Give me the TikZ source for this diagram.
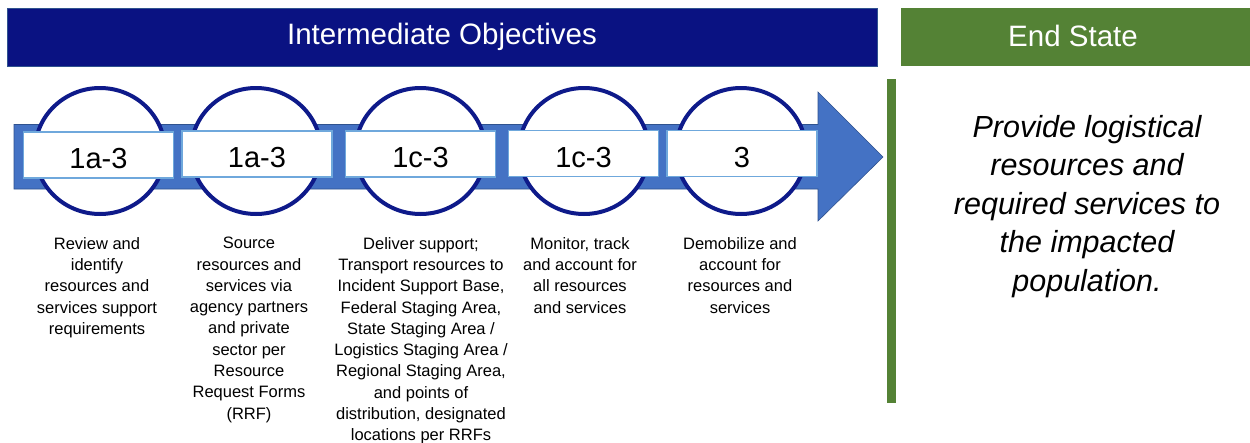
\documentclass[tikz,border=0pt]{standalone}
\usepackage{fontspec}
\usetikzlibrary{shapes.geometric}
\setmainfont{Liberation Sans}
\definecolor{navy}{RGB}{10,18,130}
\definecolor{navyline}{RGB}{47,82,143}
\definecolor{circ}{RGB}{14,26,138}
\definecolor{esgreen}{RGB}{84,130,53}
\definecolor{arrowblue}{RGB}{68,114,196}
\definecolor{arrowline}{RGB}{47,82,143}
\definecolor{rectline}{RGB}{111,168,220}
\begin{document}
\begin{tikzpicture}[x=1pt,y=-1pt,
  stepcircle/.style={ellipse,draw=circ,line width=4pt,fill=white,minimum width=130pt,minimum height=126pt,inner sep=0pt},
  steprect/.style={rectangle,draw=rectline,line width=1.5pt,fill=white,minimum width=150pt,minimum height=46pt,inner sep=0pt,text height=27pt,text depth=0pt,font=\fontsize{29}{32}\selectfont},
  desc/.style={align=center,anchor=north,inner sep=0pt,font=\fontsize{16.5}{21.3}\selectfont},
  headbox/.style={rectangle,inner sep=0pt,text=white,font=\fontsize{29.5}{32}\selectfont}]
\useasboundingbox (0,0) rectangle (1250,442);
\fill[white] (0,0) rectangle (1250,442);
% header bars
\node[headbox,fill=navy,draw=navyline,line width=1pt,minimum width=870pt,minimum height=58pt] (hdr) at (442,37) {Intermediate Objectives};
\node[headbox,fill=esgreen,minimum width=352pt,minimum height=58pt,anchor=west] (endhdr) at (901,36.5) {};
\node[text=white,font=\fontsize{29.5}{32}\selectfont,inner sep=0pt] (endlbl) at (1073,35.5) {End State};
% green separator
\fill[esgreen] (887,79) rectangle (896,403);
% arrow
\coordinate (atail) at (14,156.5);
\coordinate (atip) at (883,157);
\draw[arrowline,fill=arrowblue,line width=0.6pt]
  (14,124.5) -- (818,124.5) -- (818,92) -- (atip) -- (818,221) -- (818,189) -- (14,189) -- cycle;
% circles
\foreach \i/\x in {1/100,2/256,3/420.5,4/584,5/741}{
  \node[stepcircle] (c\i) at (\x,151) {};
}
% rects
\node[steprect] (r1) at (98.5,155) {1a-3};
\node[steprect] (r2) at (257,154) {1a-3};
\node[steprect] (r3) at (420.5,154) {1c-3};
\node[steprect] (r4) at (583.5,153.5) {1c-3};
\node[steprect] (r5) at (742,153.5) {3};
% descriptions
\node[desc] (d1) at (97,237) {Review and\\identify\\resources and\\services support\\requirements};
\node[desc] (d2) at (249,237) {Source\\resources and\\services via\\agency partners\\and private\\sector per\\Resource\\Request Forms\\(RRF)};
\node[desc] (d3) at (421,237) {Deliver support;\\Transport resources to\\Incident Support Base,\\Federal Staging Area,\\State Staging Area /\\Logistics Staging Area /\\Regional Staging Area,\\and points of\\distribution, designated\\locations per RRFs};
\node[desc] (d4) at (580,237) {Monitor, track\\and account for\\all resources\\and services};
\node[desc] (d5) at (740,237) {Demobilize and\\account for\\resources and\\services};
% end state text
\node[align=center,anchor=north,inner sep=0pt,font=\fontsize{30.5}{38.5}\selectfont\itshape] (endtxt) at (1087,115) {Provide logistical\\resources and\\required services to\\the impacted\\population.};
\end{tikzpicture}
\end{document}
